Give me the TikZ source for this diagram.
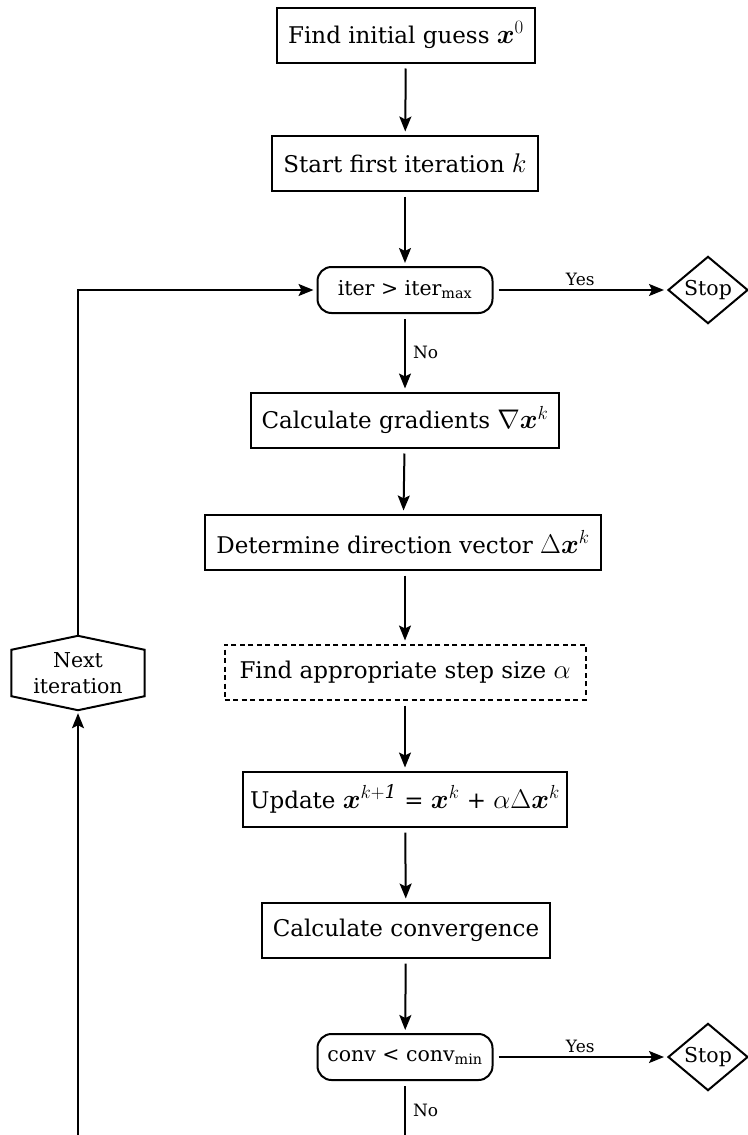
\documentclass[tikz,border=0pt]{standalone}
\usepackage{fix-cm}
\usepackage{amsmath,bm}
\usepackage{fontspec}
\setmainfont{DejaVu Serif}
\usetikzlibrary{shapes.geometric,arrows.meta,calc}

\newcommand{\boxfont}{\fontsize{23}{28}\selectfont}
\newcommand{\testfont}{\fontsize{20.5}{26}\selectfont}
\newcommand{\lblfont}{\fontsize{17}{20}\selectfont}
% formulas inside the boxes, set a little larger than the running text
\newcommand{\mathpart}[1]{{\fontsize{27}{28}\selectfont$#1$}}

\begin{document}
\begin{tikzpicture}[x=1pt,y=-1pt,
  proc/.style={draw, line width=2pt, rectangle, minimum height=55pt,
    inner xsep=11pt, inner ysep=4pt, font=\boxfont},
  dproc/.style={proc, inner xsep=15pt, dash pattern=on 5pt off 3.5pt},
  decision/.style={draw, line width=2pt, rectangle, rounded corners=14pt,
    minimum width=175pt, minimum height=46pt, inner sep=3pt, font=\testfont},
  stopnode/.style={draw, line width=2pt, diamond, minimum width=80pt,
    minimum height=65pt, inner sep=0pt, font=\testfont},
  hexnode/.style={rectangle, minimum width=133pt, minimum height=74pt,
    inner sep=0pt, align=center, font=\testfont},
  flow/.style={-{Stealth[length=15pt,width=12pt,inset=3pt]}, line width=2pt,
    shorten <=5pt, shorten >=3pt},
  lbl/.style={font=\lblfont, inner sep=3pt}]

\useasboundingbox (0,0) rectangle (747,1135);

% main column
\node[proc] (init) at (406,35) {Find initial guess \mathpart{\bm{x}^{0}}};
\node[proc] (start) at (405,163) {Start first iteration \mathpart{k}};
\node[decision] (iterchk) at (405,290) {iter > iter\textsubscript{max}};
\node[stopnode] (stopA) at (708,290) {Stop};
\node[proc] (grad) at (405,420) {Calculate gradients \mathpart{\nabla\bm{x}^{k}}};
\node[proc] (dir) at (403,542) {Determine direction vector \mathpart{\Delta\bm{x}^{k}}};
\node[dproc] (alpha) at (405,672) {Find appropriate step size \mathpart{\alpha}};
\node[proc, inner xsep=7pt] (upd) at (405,799) {Update \mathpart{\bm{x}^{k+\mathit{1}}} = \mathpart{\bm{x}^{k}} + \mathpart{\alpha\Delta\bm{x}^{k}}};
\node[proc] (conv) at (406,930) {Calculate convergence};
\node[decision] (convchk) at (405,1057) {conv < conv\textsubscript{min}};
\node[stopnode] (stopB) at (708,1057) {Stop};

% loop-back hexagon
\node[hexnode] (next) at (78,673) {Next\\iteration};
\draw[line width=2pt] (next.north) -- ($(next.north east)+(0,14)$)
  -- ($(next.south east)+(0,-14)$) -- (next.south)
  -- ($(next.south west)+(0,-14)$) -- ($(next.north west)+(0,14)$) -- cycle;

% loose ends running off the lower edge
\coordinate (loopin) at (78,1140);
\coordinate (noout) at (405,1140);

% connectors
\draw[flow] (init) -- (start);
\draw[flow] (start) -- (iterchk);
\draw[flow] (iterchk) -- node[lbl, above] {Yes} (stopA);
\draw[flow] (iterchk) -- node[lbl, right, inner xsep=7pt] {No} (grad);
\draw[flow] (grad) -- (dir);
\draw[flow] (dir.south -| grad) -- (alpha);
\draw[flow] (alpha) -- (upd);
\draw[flow] (upd) -- (conv);
\draw[flow] (conv) -- (convchk);
\draw[flow] (convchk) -- node[lbl, above] {Yes} (stopB);
\draw[line width=2pt, shorten <=5pt] (convchk) -- node[lbl, right, inner xsep=7pt] {No} (noout);
\draw[flow, shorten <=0pt] (loopin) -- (next.south);
\draw[flow, shorten <=0pt] (next.north) |- (iterchk.west);

\end{tikzpicture}
\end{document}
